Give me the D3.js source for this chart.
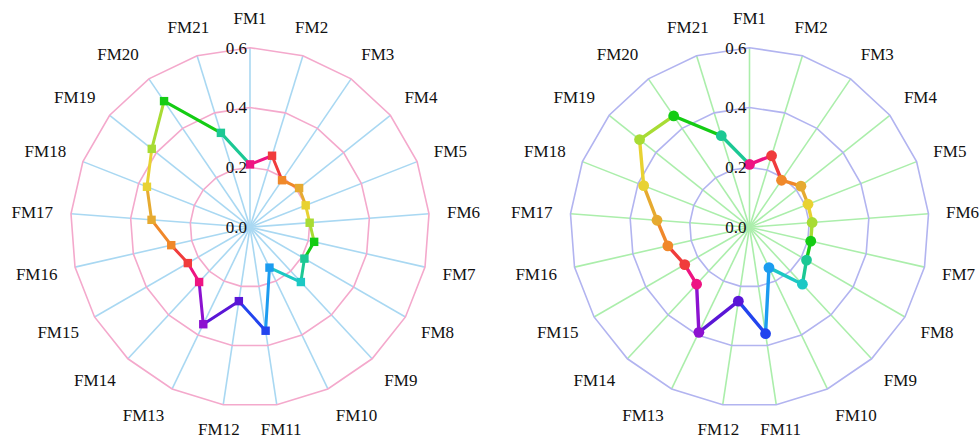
<!DOCTYPE html>
<html>
<head>
<meta charset="utf-8">
<script src="https://cdn.jsdelivr.net/npm/d3@7"></script>
<style>
  html, body { margin: 0; padding: 0; background: #fff; }
  svg { display: block; }
  text { font-family: "Liberation Serif", "Times New Roman", serif; fill: #111; }
</style>
</head>
<body>
<svg id="chart" width="980" height="439"></svg>
<script>
// Indicator names, clockwise from the top
const categories = ["FM1","FM2","FM3","FM4","FM5","FM6","FM7","FM8","FM9","FM10","FM11",
                    "FM12","FM13","FM14","FM15","FM16","FM17","FM18","FM19","FM20","FM21"];
// Values of the left (square markers) and right (round markers) radar
const seriesLeft  = [0.21,0.25,0.19,0.21,0.20,0.20,0.22,0.21,0.25,0.15,0.35,
                     0.25,0.36,0.25,0.24,0.27,0.33,0.37,0.42,0.51,0.33];
const seriesRight = [0.21,0.25,0.19,0.22,0.21,0.21,0.21,0.22,0.26,0.15,0.36,
                     0.25,0.39,0.26,0.25,0.28,0.31,0.38,0.47,0.45,0.32];
// Radial ticks
const tickValues = [0.0, 0.2, 0.4, 0.6];
const tickLabels = ["0.0", "0.2", "0.4", "0.6"];
// Cycling point colours
const palette = ["#ee1482","#f03c3c","#f0882a","#e6aa30","#e8d232","#a8dc34","#14cc14",
                 "#1cc894","#1cc8c4","#1c9cf0","#2244ee","#5a16d6","#8c12d0"];

const width = 980, height = 439;
const svg = d3.select("#chart");
const R = 179.5;
const n = categories.length;
const angle = d3.scaleLinear().domain([0, n]).range([0, 2 * Math.PI]);
const radius = d3.scaleLinear().domain([0, 0.6]).range([0, R]);
const colorOf = i => palette[i % palette.length];

function drawRadar(opts) {
  const { cx, cy, values, ringColor, spokeColor, marker, lineWidth } = opts;
  const g = svg.append("g").attr("transform", `translate(${cx},${cy})`);
  const pt = (i, v) => {
    const a = angle(i);
    return [Math.sin(a) * radius(v), -Math.cos(a) * radius(v)];
  };

  // spokes
  g.append("g").selectAll("line").data(categories).join("line")
    .attr("x1", 0).attr("y1", 0)
    .attr("x2", (d, i) => pt(i, 0.6)[0])
    .attr("y2", (d, i) => pt(i, 0.6)[1])
    .attr("stroke", spokeColor).attr("stroke-width", 1.6);

  // rings (the zero level is the centre point)
  g.append("g").selectAll("path").data(tickValues.filter(t => t > 0)).join("path")
    .attr("d", t => d3.line()(categories.map((c, i) => pt(i, t))) + "Z")
    .attr("fill", "none").attr("stroke", ringColor).attr("stroke-width", 1.6);

  // line segments, each in the colour of the point it starts from
  const segs = values.map((v, i) => {
    const j = (i + 1) % n;
    return { a: pt(i, v), b: pt(j, values[j]), i };
  });
  g.append("g").selectAll("line").data(segs).join("line")
    .attr("x1", s => s.a[0]).attr("y1", s => s.a[1])
    .attr("x2", s => s.b[0]).attr("y2", s => s.b[1])
    .attr("stroke", s => colorOf(s.i))
    .attr("stroke-width", lineWidth)
    .attr("stroke-linecap", "round");

  // markers
  const gm = g.append("g");
  if (marker === "square") {
    gm.selectAll("rect").data(values).join("rect")
      .attr("x", (v, i) => pt(i, v)[0] - 4.2)
      .attr("y", (v, i) => pt(i, v)[1] - 4.2)
      .attr("width", 8.4).attr("height", 8.4)
      .attr("fill", (v, i) => colorOf(i));
  } else {
    gm.selectAll("circle").data(values).join("circle")
      .attr("cx", (v, i) => pt(i, v)[0])
      .attr("cy", (v, i) => pt(i, v)[1])
      .attr("r", 5.4)
      .attr("fill", (v, i) => colorOf(i));
  }

  // tick labels along the first spoke
  g.append("g").selectAll("text").data(tickValues).join("text")
    .attr("x", -3)
    .attr("y", t => -radius(t))
    .attr("dy", "0.35em")
    .attr("text-anchor", "end")
    .attr("font-size", 17)
    .text((t, i) => tickLabels[i]);

  // indicator names around the outside
  const r0 = R + 29.5;
  g.append("g").selectAll("text").data(categories).join("text")
    .attr("dy", "0.35em")
    .attr("font-size", 17)
    .text(d => d)
    .each(function (d, i) {
      const a = angle(i);
      const s = Math.sin(a), c = Math.cos(a);
      let x = s * r0, y = -c * r0, anchor = "middle";
      if (Math.abs(s) > 0.35) {
        anchor = s > 0 ? "start" : "end";
        x -= s * 11.5;
      }
      y = Math.min(y, height - 10 - cy);
      const el = d3.select(this).attr("x", x).attr("y", y).attr("text-anchor", anchor);
      // keep the name inside the drawing area
      const bb = this.getBBox();
      const over = cx + bb.x + bb.width - (width - 1);
      if (over > 0) el.attr("x", x - over);
      const under = 1 - (cx + bb.x);
      if (under > 0) el.attr("x", x + under);
    });
}

drawRadar({ cx: 250, cy: 227.2, values: seriesLeft,
            ringColor: "#f4a9cc", spokeColor: "#a9d8f2", marker: "square", lineWidth: 3 });
drawRadar({ cx: 749.5, cy: 227.2, values: seriesRight,
            ringColor: "#b2b4f0", spokeColor: "#abeeab", marker: "circle", lineWidth: 3.4 });
</script>
</body>
</html>
